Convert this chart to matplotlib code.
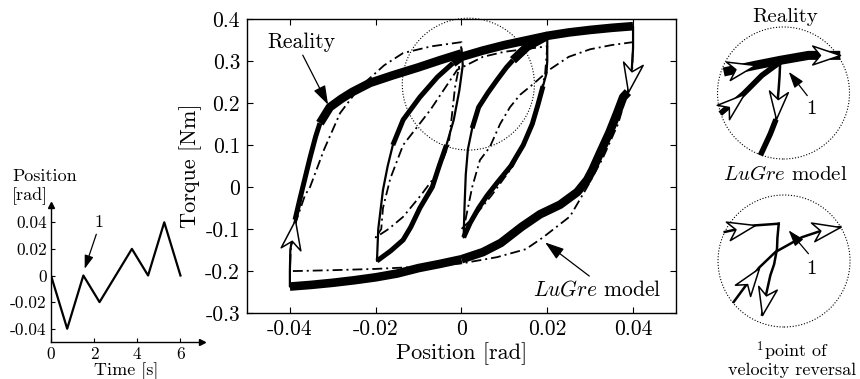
import numpy as np
import matplotlib
matplotlib.use("Agg")
import matplotlib.pyplot as plt
from matplotlib.path import Path
from matplotlib.markers import MarkerStyle
from matplotlib.transforms import Affine2D
from matplotlib.patches import Ellipse, Circle

plt.rcParams['font.family'] = 'serif'
plt.rcParams['font.serif'] = ['cmr10']
plt.rcParams['mathtext.fontset'] = 'cm'
plt.rcParams['axes.unicode_minus'] = False
plt.rcParams['axes.formatter.use_mathtext'] = True

# ---- reference input: position vs time ----
time_s = [0, 0.75, 1.5, 2.25, 3.75, 4.5, 5.25, 6]
pos_rad = [0, -0.04, 0, -0.02, 0.02, 0, 0.04, 0]

# ---- measured torque, branch by branch in time order ----
# outer = thick band, loop = inner loop edge, rev = transient after velocity reversal
low_a_p = [0.0, -0.005, -0.01, -0.015, -0.02, -0.025, -0.03, -0.035, -0.04]
low_a_t = [-0.172, -0.183, -0.193, -0.206, -0.215, -0.222, -0.228, -0.233, -0.237]
rev_a_p = [-0.04, -0.04, -0.0399, -0.0388]
rev_a_t = [-0.237, -0.20, -0.15, -0.078]
rise_a_p = [-0.0388, -0.0377, -0.0365, -0.0353, -0.034, -0.033]
rise_a_t = [-0.078, -0.03, 0.02, 0.07, 0.12, 0.152]
up_a_p = [-0.033, -0.0307, -0.028, -0.0255, -0.0213, -0.016, -0.01, -0.005, 0.0]
up_a_t = [0.152, 0.19, 0.21, 0.226, 0.248, 0.266, 0.285, 0.302, 0.318]
rev_b_p = [0.0, 0.0003, -0.0005, -0.0018, -0.0035]
rev_b_t = [0.33, 0.29, 0.23, 0.16, 0.10]
fall_b_p = [-0.0035, -0.0052, -0.0068, -0.0097, -0.0118, -0.0136, -0.0165, -0.0197]
fall_b_t = [0.10, 0.05, 0.0, -0.05, -0.095, -0.126, -0.152, -0.176]
rev_c_p = [-0.0197, -0.0196, -0.0194, -0.0183, -0.0172, -0.016]
rev_c_t = [-0.176, -0.15, -0.10, -0.007, 0.05, 0.10]
rise_c_p = [-0.016, -0.0136, -0.0097, -0.0056, -0.002]
rise_c_t = [0.10, 0.16, 0.214, 0.262, 0.295]
up_c_p = [-0.002, 0.0, 0.005, 0.01, 0.015, 0.02]
up_c_t = [0.295, 0.31, 0.325, 0.338, 0.349, 0.36]
rev_d_p = [0.02, 0.02, 0.0198, 0.019]
rev_d_t = [0.36, 0.30, 0.27, 0.24]
fall_d_p = [0.019, 0.0178, 0.0165, 0.0144, 0.0115, 0.0083, 0.006, 0.004, 0.002, 0.0005]
fall_d_t = [0.24, 0.195, 0.15, 0.10, 0.05, 0.01, -0.02, -0.05, -0.086, -0.12]
rev_e_p = [0.0005, 0.0007, 0.001, 0.0015, 0.0025]
rev_e_t = [-0.12, -0.05, 0.03, 0.09, 0.14]
rise_e_p = [0.0025, 0.004, 0.0062, 0.0083, 0.0105, 0.012]
rise_e_t = [0.14, 0.19, 0.225, 0.255, 0.285, 0.302]
up_e_p = [0.012, 0.0153, 0.02, 0.025, 0.03, 0.035, 0.04]
up_e_t = [0.302, 0.334, 0.36, 0.368, 0.374, 0.379, 0.383]
rev_f_p = [0.04, 0.04, 0.0397, 0.0388]
rev_f_t = [0.383, 0.33, 0.28, 0.226]
low_f_p = [0.0388, 0.0377, 0.0363, 0.0345, 0.0323, 0.0305, 0.0293, 0.027, 0.023,
           0.0183, 0.014, 0.0092, 0.005, 0.0]
low_f_t = [0.226, 0.214, 0.176, 0.13, 0.081, 0.04, 0.017, -0.012, -0.042,
           -0.065, -0.095, -0.133, -0.155, -0.172]

# ---- LuGre model response ----
lugre_p = [0.0, -0.01, -0.02, -0.03, -0.0385, -0.04,
           -0.0398, -0.0385, -0.0365, -0.0353, -0.032, -0.0283, -0.0237, -0.018, -0.0136, -0.007, 0.0,
           -0.0003, -0.0015, -0.003, -0.0056, -0.0095, -0.0136, -0.017, -0.02,
           -0.0187, -0.0183, -0.0166, -0.0136, -0.0073, -0.001, 0.005, 0.01, 0.02,
           0.0195, 0.018, 0.0155, 0.012, 0.007, 0.003, 0.0,
           0.0007, 0.0025, 0.0043, 0.0066, 0.009, 0.0113, 0.0137, 0.0167, 0.0206, 0.025, 0.03, 0.035, 0.04,
           0.0398, 0.0385, 0.0365, 0.033, 0.0293, 0.0253, 0.019, 0.015, 0.0083, 0.0]
lugre_t = [-0.182, -0.19, -0.195, -0.198, -0.2, -0.2,
           -0.15, -0.08, -0.02, 0.0, 0.09, 0.176, 0.238, 0.29, 0.319, 0.335, 0.345,
           0.30, 0.238, 0.10, 0.033, -0.02, -0.071, -0.10, -0.12,
           -0.10, -0.05, 0.02, 0.10, 0.183, 0.279, 0.31, 0.322, 0.335,
           0.27, 0.20, 0.12, 0.05, -0.02, -0.07, -0.10,
           -0.09, 0.0, 0.064, 0.095, 0.15, 0.19, 0.22, 0.245, 0.28, 0.31, 0.328, 0.338, 0.345,
           0.28, 0.22, 0.15, 0.07, 0.0, -0.07, -0.12, -0.148, -0.167, -0.182]

# ---- close-ups around the first reversal (normalised to the circle radius) ----
zr_band_u = [-0.906, -0.427, -0.05, 0.38, 0.86]
zr_band_v = [0.318, 0.42, 0.495, 0.57, 0.57]
zr_in_u = [-0.958, -0.603, -0.326, -0.05]
zr_in_v = [-0.313, -0.01, 0.268, 0.47]
zr_drop_u = [-0.05, -0.06, -0.073, -0.114]
zr_drop_v = [0.47, 0.25, 0.065, -0.40]
zr_tail_u = [-0.114, -0.2, -0.35]
zr_tail_v = [-0.40, -0.62, -0.944]

zl_top_u = [-0.898, -0.435, -0.08]
zl_top_v = [0.44, 0.54, 0.565]
zl_drop_u = [-0.08, -0.1, -0.106, -0.15, -0.207, -0.27, -0.333]
zl_drop_v = [0.565, 0.35, 0.187, -0.05, -0.217, -0.5, -0.813]
zl_rise_u = [-0.762, -0.383, -0.13, 0.27, 0.6, 0.853]
zl_rise_v = [-0.62, -0.106, 0.136, 0.36, 0.47, 0.515]

head_path = Path([(0, 0), (-1, 0.34), (-0.72, 0), (-1, -0.34), (0, 0)],
                 [Path.MOVETO, Path.LINETO, Path.LINETO, Path.LINETO, Path.CLOSEPOLY])
pointer = dict(arrowstyle='-|>,head_length=0.9,head_width=0.3', color='k', lw=0.9,
               shrinkA=0, shrinkB=0, mutation_scale=10)


def heading(ax, p0, p1):
    d = ax.transData.transform([p1]) - ax.transData.transform([p0])
    return np.degrees(np.arctan2(d[0, 1], d[0, 0]))


def open_head(ax, xs, ys, i, size=40):
    ang = heading(ax, (xs[i - 1], ys[i - 1]), (xs[i], ys[i]))
    m = MarkerStyle(head_path, transform=Affine2D().rotate_deg(ang))
    ax.plot(xs[i], ys[i], marker=m, ms=size, mfc='white', mec='k', mew=1.1,
            ls='none', zorder=6, clip_on=False)


fig = plt.figure(figsize=(8.6, 3.79), dpi=100)

# ===== small position/time plot =====
axp = fig.add_axes([0.0593, 0.0976, 0.1756, 0.3615])
axp.plot(time_s, pos_rad, color='k', lw=1.6)
axp.set_xlim(0, 7)
axp.set_ylim(-0.05, 0.053)
axp.spines['top'].set_visible(False)
axp.spines['right'].set_visible(False)
axp.spines['left'].set_linewidth(1.0)
axp.spines['bottom'].set_linewidth(1.0)
axp.plot(1, 0, '>k', ms=5, transform=axp.transAxes, clip_on=False)
axp.plot(0, 1, '^k', ms=5, transform=axp.transAxes, clip_on=False)
axp.set_xticks([0, 2, 4, 6])
axp.set_xticklabels(['0', '2', '4', '6'])
axp.set_yticks([-0.04, -0.02, 0, 0.02, 0.04])
axp.set_yticklabels(['-0.04', '-0.02', '0', '0.02', '0.04'])
axp.tick_params(direction='in', length=3, width=0.8, labelsize=12.5, pad=3)
axp.set_xlabel('Time [s]', fontsize=13, labelpad=0.5)
fig.text(0.014, 0.458, 'Position\n[rad]', fontsize=13, ha='left', va='bottom',
         linespacing=1.3)
axp.text(2.2, 0.04, '1', fontsize=13, ha='center', va='center')
axp.annotate('', xy=(time_s[2] + 0.06, pos_rad[2] + 0.005), xytext=(2.1, 0.031),
             arrowprops=dict(pointer, mutation_scale=9))

# ===== main hysteresis plot =====
ax = fig.add_axes([0.2872, 0.1741, 0.4988, 0.7757])
ax.set_xlim(-0.05, 0.05)
ax.set_ylim(-0.3, 0.4)

outer = [(low_a_p, low_a_t), (up_a_p, up_a_t), (up_c_p, up_c_t),
         (up_e_p, up_e_t), (low_f_p, low_f_t)]
loop = [(rise_a_p, rise_a_t), (fall_b_p, fall_b_t), (rise_c_p, rise_c_t),
        (fall_d_p, fall_d_t), (rise_e_p, rise_e_t)]
rev = [(rev_a_p, rev_a_t), (rev_b_p, rev_b_t), (rev_c_p, rev_c_t),
       (rev_d_p, rev_d_t), (rev_e_p, rev_e_t), (rev_f_p, rev_f_t)]
for p, t in outer:
    ax.plot(p, t, color='k', lw=6.2, solid_capstyle='butt', solid_joinstyle='round')
for p, t in loop:
    ax.plot(p, t, color='k', lw=3.6, solid_capstyle='butt', solid_joinstyle='round')
for p, t in rev:
    ax.plot(p, t, color='k', lw=1.6, solid_capstyle='round')

ax.plot(lugre_p, lugre_t, color='k', lw=1.3, ls=(0, (5.5, 2.2, 1.1, 2.2)))

ax.add_patch(Ellipse((0.0016, 0.245), 0.0308, 0.314, fill=False, ec='k',
                     lw=0.8, ls=(0, (1, 1.6)), clip_on=False))

open_head(ax, rev_a_p, rev_a_t, len(rev_a_p) - 1, size=42)
open_head(ax, rev_f_p, rev_f_t, len(rev_f_p) - 1, size=42)

ax.text(-0.0374, 0.345, 'Reality', fontsize=15.5, ha='center', va='center')
ax.annotate('', xy=(up_a_p[1] - 0.0004, up_a_t[1] + 0.006), xytext=(-0.037, 0.314),
            arrowprops=dict(pointer, mutation_scale=13))
ax.text(0.0316, -0.245, r'$\mathit{LuGre}$ model', fontsize=15.5, ha='center', va='center')
ax.annotate('', xy=(lugre_p[60] + 0.0005, lugre_t[60] - 0.012), xytext=(0.0298, -0.212),
            arrowprops=dict(pointer, mutation_scale=13))

ax.set_xticks([-0.04, -0.02, 0, 0.02, 0.04])
ax.set_xticklabels(['-0.04', '-0.02', '0', '0.02', '0.04'])
ax.set_yticks([-0.3, -0.2, -0.1, 0, 0.1, 0.2, 0.3, 0.4])
ax.set_yticklabels(['-0.3', '-0.2', '-0.1', '0', '0.1', '0.2', '0.3', '0.4'])
ax.tick_params(direction='in', top=True, right=True, length=4, width=0.8,
               labelsize=15.5, pad=5)
for s in ax.spines.values():
    s.set_linewidth(1.0)
ax.set_xlabel('Position [rad]', fontsize=16, labelpad=2)
ax.set_ylabel('Torque [Nm]', fontsize=16, labelpad=2)


# ===== close-ups =====
def zoom_axes(rect):
    a = fig.add_axes(rect)
    a.set_xlim(-1, 1)
    a.set_ylim(-1, 1)
    a.axis('off')
    a.add_patch(Circle((0, 0), 1, fill=False, ec='k', lw=0.8, ls=(0, (1, 1.6)),
                       clip_on=False))
    return a


zr = zoom_axes([0.8343, 0.5805, 0.1535, 0.3483])
zr.plot(zr_in_u, zr_in_v, color='k', lw=4, solid_capstyle='butt')
zr.plot(zr_band_u, zr_band_v, color='k', lw=6.5, solid_capstyle='butt')
zr.plot(zr_drop_u, zr_drop_v, color='k', lw=1.8)
zr.plot(zr_tail_u, zr_tail_v, color='k', lw=4, solid_capstyle='butt')
open_head(zr, zr_band_u, zr_band_v, 1, size=40)
open_head(zr, zr_in_u, zr_in_v, 1, size=40)
open_head(zr, zr_drop_u, zr_drop_v, 3, size=40)
open_head(zr, zr_band_u, zr_band_v, 4, size=40)
zr.text(0.43, -0.24, '1', fontsize=15, ha='center', va='center')
zr.annotate('', xy=(0.08, 0.32), xytext=(0.36, -0.04), arrowprops=dict(pointer, mutation_scale=11))

zl = zoom_axes([0.8349, 0.1372, 0.1535, 0.3483])
zl.plot(zl_top_u, zl_top_v, color='k', lw=1.8)
zl.plot(zl_drop_u, zl_drop_v, color='k', lw=1.8)
zl.plot(zl_rise_u, zl_rise_v, color='k', lw=1.8)
open_head(zl, zl_top_u, zl_top_v, 1, size=40)
open_head(zl, zl_rise_u, zl_rise_v, 1, size=40)
open_head(zl, zl_drop_u, zl_drop_v, 6, size=40)
open_head(zl, zl_rise_u, zl_rise_v, 5, size=40)
zl.text(0.42, -0.12, '1', fontsize=15, ha='center', va='center')
zl.annotate('', xy=(0.07, 0.465), xytext=(0.37, 0.11), arrowprops=dict(pointer, mutation_scale=11))

fig.text(0.9128, 0.942, 'Reality', fontsize=15, ha='center', va='baseline')
fig.text(0.9128, 0.525, r'$\mathit{LuGre}$ model', fontsize=15, ha='center', va='baseline')
fig.text(0.921, 0.058, r'$^{1}$point of', fontsize=13, ha='center', va='baseline')
fig.text(0.921, 0.0106, 'velocity reversal', fontsize=13, ha='center', va='baseline')

fig.savefig('out.png', dpi=100)
